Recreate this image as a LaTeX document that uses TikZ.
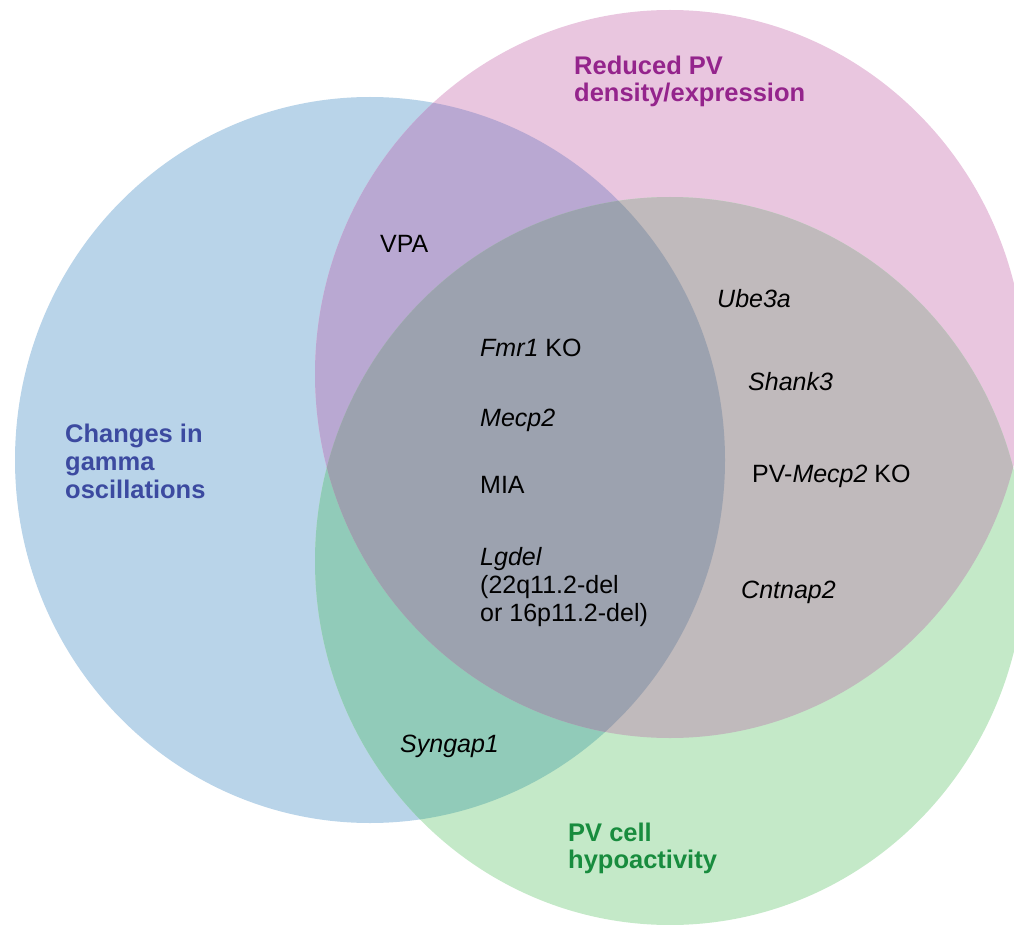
\documentclass[tikz,border=0pt]{standalone}
\usepackage{fontspec}
\setmainfont{Liberation Sans}
\definecolor{blueC}{RGB}{185,212,233}
\definecolor{pinkC}{RGB}{233,198,223}
\definecolor{greenC}{RGB}{196,233,200}
\definecolor{bpC}{RGB}{185,168,210}
\definecolor{bgC}{RGB}{145,203,185}
\definecolor{pgC}{RGB}{192,186,188}
\definecolor{triC}{RGB}{156,162,175}
\definecolor{purpleT}{RGB}{148,36,140}
\definecolor{blueT}{RGB}{60,74,160}
\definecolor{greenT}{RGB}{24,140,62}
\tikzset{
  lbl/.style={anchor=base west, inner sep=0pt, align=left, text=black,
    font=\fontsize{25}{28}\selectfont},
  ttl/.style={anchor=base west, inner sep=0pt, align=left,
    font=\fontsize{25.5}{27}\selectfont\bfseries},
}
\begin{document}
\begin{tikzpicture}[x=1pt,y=-1pt]
\useasboundingbox (0,0) rectangle (1014,925);
\def\blueE{(370,460) ellipse [x radius=355pt, y radius=363pt]}
\def\pinkE{(670,374) ellipse [x radius=355pt, y radius=364pt]}
\def\greenE{(670,561) ellipse [x radius=355pt, y radius=364pt]}
% single circles
\fill[blueC] \blueE;
\fill[pinkC] \pinkE;
\fill[greenC] \greenE;
% pairwise intersections
\begin{scope}\clip \blueE; \fill[bpC] \pinkE; \end{scope}
\begin{scope}\clip \blueE; \fill[bgC] \greenE; \end{scope}
\begin{scope}\clip \pinkE; \fill[pgC] \greenE; \end{scope}
% triple intersection
\begin{scope}\clip \blueE; \clip \pinkE; \fill[triC] \greenE; \end{scope}
% titles (anchor = baseline of last line)
\node[ttl, text=purpleT] (tpink) at (574,102) {Reduced PV\\density/expression};
\node[ttl, text=blueT, font=\fontsize{25.5}{28}\selectfont\bfseries] (tblue) at (65,498) {Changes in\\gamma\\oscillations};
\node[ttl, text=greenT] (tgreen) at (568,868) {PV cell\\hypoactivity};
% items
\node[lbl] (vpa) at (380,253) {VPA};
\node[lbl] (fmr) at (480,356) {\textit{Fmr1} KO};
\node[lbl] (mecp) at (480,426) {\textit{Mecp2}};
\node[lbl] (mia) at (480,493) {MIA};
\node[lbl] (lgdel) at (480,621) {\textit{Lgdel}\\(22q11.2-del\\or 16p11.2-del)};
\node[lbl] (ube) at (717,307) {\textit{Ube3a}};
\node[lbl] (shank) at (748,390) {\textit{Shank3}};
\node[lbl] (pvm) at (752,482) {PV-\textit{Mecp2} KO};
\node[lbl] (cnt) at (741,598) {\textit{Cntnap2}};
\node[lbl] (syn) at (400,752) {\textit{Syngap1}};
\end{tikzpicture}
\end{document}
